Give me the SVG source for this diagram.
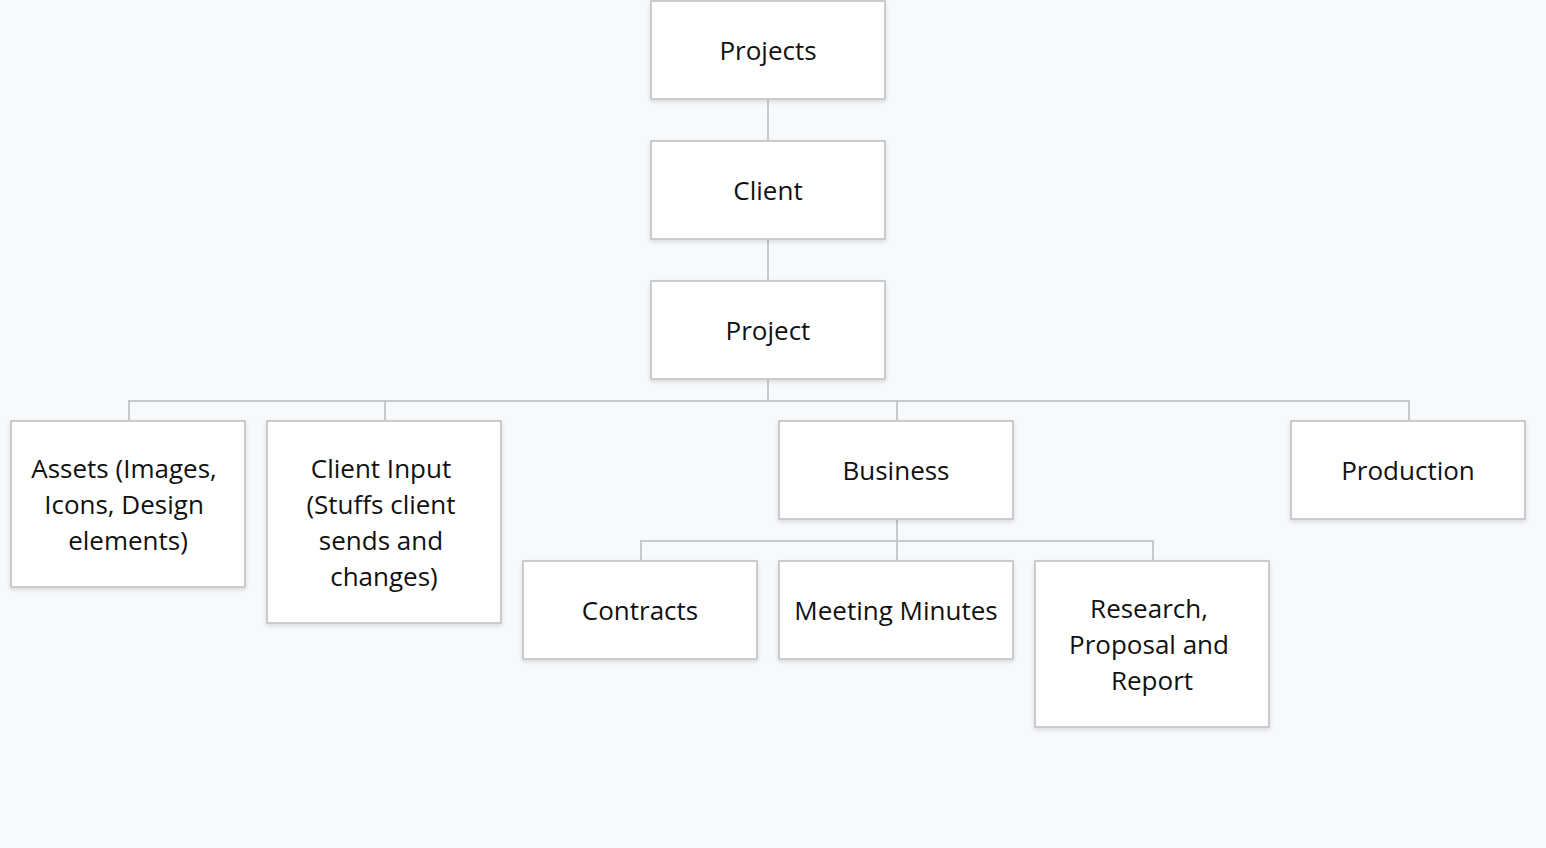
<svg xmlns="http://www.w3.org/2000/svg" width="1546" height="848" viewBox="0 0 1546 848">
<defs>
<filter id="sh" x="-10%" y="-10%" width="120%" height="130%">
<feDropShadow dx="0" dy="2" stdDeviation="2" flood-color="#000" flood-opacity="0.12"/>
</filter>
<style>
.box{fill:#fff;stroke:#cbcbcd;stroke-width:2;filter:url(#sh)}
.t{font-family:"Open Sans","Noto Sans",sans-serif;font-size:26px;fill:#111;text-anchor:middle}
.c{fill:none;stroke:#c8c9cc;stroke-width:2}
</style>
</defs>
<rect width="1546" height="848" fill="#f8f9fb"/>
<g id="connectors">
<path class="c" d="M768 99V141M768 239V281M768 379V401M129 421V401H1409V421M385 401V421M897 401V421M897 519V541M641 561V541H1153V561M897 541V561"/>
</g>
<g id="n-projects"><rect class="box" x="651" y="1" width="234" height="98"/><text class="t" x="768" y="60">Projects</text></g>
<g id="n-client"><rect class="box" x="651" y="141" width="234" height="98"/><text class="t" x="768" y="200">Client</text></g>
<g id="n-project"><rect class="box" x="651" y="281" width="234" height="98"/><text class="t" x="768" y="340">Project</text></g>
<g id="n-assets"><rect class="box" x="11" y="421" width="234" height="166"/><text class="t"><tspan x="124" y="478">Assets (Images,</tspan><tspan x="124" y="514">Icons, Design</tspan><tspan x="128" y="550">elements)</tspan></text></g>
<g id="n-clientinput"><rect class="box" x="267" y="421" width="234" height="202"/><text class="t"><tspan x="381" y="478">Client Input</tspan><tspan x="381" y="514">(Stuffs client</tspan><tspan x="381" y="550">sends and</tspan><tspan x="384" y="586">changes)</tspan></text></g>
<g id="n-business"><rect class="box" x="779" y="421" width="234" height="98"/><text class="t" x="896" y="480">Business</text></g>
<g id="n-production"><rect class="box" x="1291" y="421" width="234" height="98"/><text class="t" x="1408" y="480">Production</text></g>
<g id="n-contracts"><rect class="box" x="523" y="561" width="234" height="98"/><text class="t" x="640" y="620">Contracts</text></g>
<g id="n-minutes"><rect class="box" x="779" y="561" width="234" height="98"/><text class="t" x="896" y="620">Meeting Minutes</text></g>
<g id="n-research"><rect class="box" x="1035" y="561" width="234" height="166"/><text class="t"><tspan x="1149" y="618">Research,</tspan><tspan x="1149" y="654">Proposal and</tspan><tspan x="1152" y="690">Report</tspan></text></g>
</svg>
